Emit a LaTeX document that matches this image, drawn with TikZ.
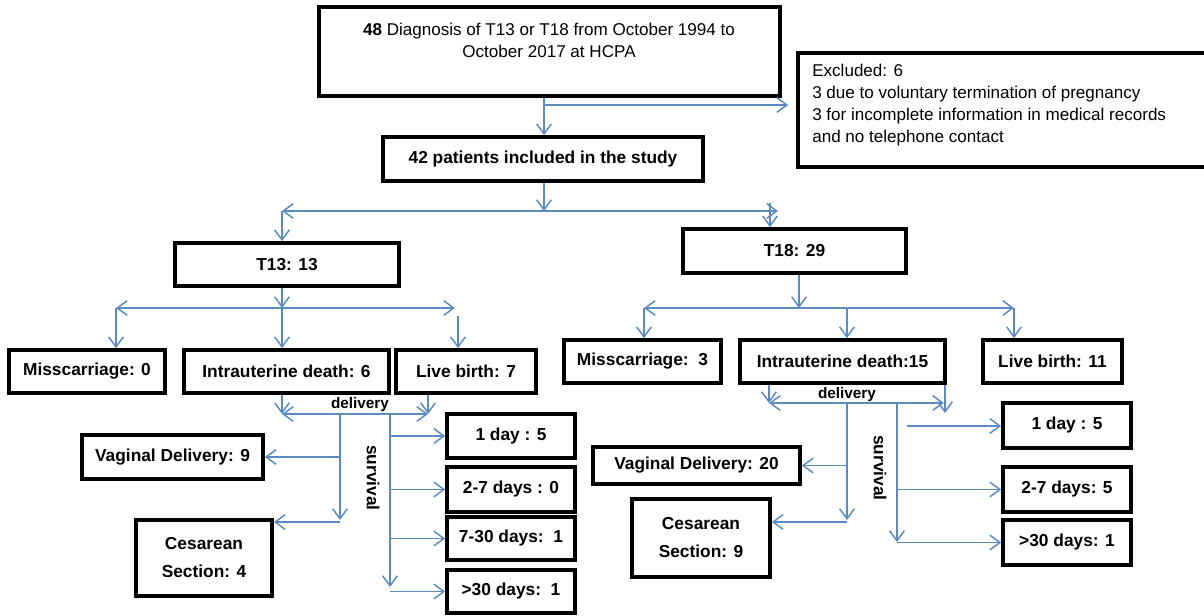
\documentclass[tikz,border=0pt]{standalone}
\usepackage{fontspec}
\setmainfont{Liberation Sans}
\usetikzlibrary{arrows.meta}
\definecolor{ln}{HTML}{5B8BC1}
\newcommand\bx[6]{\node[box, minimum width={(#4-#2)*0.75pt}, minimum height={(#5-#3)*0.75pt}] (#1) at ({(#2+#4)/2},{(#3+#5)/2}) {#6};}
\begin{document}
\begin{tikzpicture}[x=0.75pt,y=-0.75pt,
  box/.style={draw, line width=2.8pt, inner sep=0pt, align=center, font=\bfseries\fontsize{13}{15}\selectfont},
  conn/.style={draw=ln, line width=1.1pt},
  arr/.style={conn, -{Straight Barb[length=7.5pt,width=11pt]}},
  darr/.style={conn, {Straight Barb[length=7.5pt,width=11pt]}-{Straight Barb[length=7.5pt,width=11pt]}},
  reg/.style={inner sep=0pt, font=\fontsize{12.8}{17}\selectfont},
  lbl/.style={inner sep=0pt, font=\bfseries\fontsize{11.5}{13}\selectfont},
  slbl/.style={inner sep=0pt, font=\bfseries\fontsize{13}{15}\selectfont, rotate=-90}]
\useasboundingbox (0,0) rectangle (1204,615);

% ---- boxes ----
\bx{top}{319}{7}{780}{96}{}
\node[reg, align=center] (toptext) at (549,40.5) {{\bfseries 48} Diagnosis of T13 or T18 from October 1994 to\\October 2017 at HCPA};
\bx{excl}{798}{53}{1215}{167}{}
\node[reg, align=left, anchor=west, font=\fontsize{12.8}{16.5}\selectfont] (excltext) at (812,105.5) {Excluded: 6\\3 due to voluntary termination of pregnancy\\3 for incomplete information in medical records\\and no telephone contact};
\bx{pat}{383}{137}{703}{181}{42 patients included in the study}
\bx{tA}{175}{243}{399}{286}{T13: 13}
\bx{tB}{683}{229}{906}{273}{T18: 29}
\bx{mA}{9}{350}{165}{393}{Misscarriage: 0}
\bx{iA}{184}{350}{389}{393}{Intrauterine death: 6}
\bx{lA}{396}{350}{536}{393}{Live birth: 7}
\bx{mB}{564}{340}{721}{383}{Misscarriage:\ \ 3}
\bx{iB}{740}{340}{945}{383}{Intrauterine death:15}
\bx{lB}{983}{340}{1122}{383}{Live birth: 11}
\bx{vA}{82}{435}{263}{479}{Vaginal Delivery: 9}
\bx{cA}{136}{520}{272}{596}{Cesarean\\[6pt]Section: 4}
\bx{sA1}{447}{414}{575}{458}{1 day : 5}
\bx{sA2}{447}{467}{575}{512}{2-7 days : 0}
\bx{sA3}{447}{517}{575}{560}{7-30 days:\ \ 1}
\bx{sA4}{447}{570}{575}{613}{>30 days:\ \ 1}
\bx{vB}{593}{447}{800}{484}{Vaginal Delivery: 20}
\bx{cB}{632}{499}{770}{577}{Cesarean\\[6pt]Section: 9}
\bx{sB1}{1003}{403}{1131}{448}{1 day : 5}
\bx{sB2}{1003}{467}{1131}{512}{2-7 days: 5}
\bx{sB3}{1003}{520}{1131}{565}{>30 days: 1}

% ---- top connectors ----
\coordinate (j1) at (544,105);
\draw[arr] (top.south -| j1) -- (j1 |- pat.north);
\draw[arr, shorten >=6pt] (j1) -- (j1 -| excl.west);
\coordinate (j2) at (544,211);
\coordinate (j2L) at (282,211);
\coordinate (j2R) at (778,211);
\coordinate (j2T) at (770,203);
\draw[arr] (pat.south -| j2) -- (j2);
\draw[darr] (j2L) -- (j2R);
\draw[arr] (j2L) -- (j2L |- tA.north);
\draw[arr] (j2T) -- (j2T |- tB.north);

% ---- T13 branches ----
\coordinate (j3) at (282,308);
\coordinate (j3L) at (116,308);
\coordinate (j3R) at (455,308);
\coordinate (j3r) at (458,316);
\draw[arr] (tA.south -| j3) -- (j3);
\draw[darr] (j3L) -- (j3R);
\draw[arr] (j3) -- (j3 |- iA.north);
\draw[arr] (j3L) -- (j3L |- mA.north);
\draw[arr] (j3r) -- (j3r |- lA.north);

% ---- T18 branches ----
\coordinate (j4) at (799,308);
\coordinate (j4L) at (644,308);
\coordinate (j4M) at (847,308);
\coordinate (j4R) at (1014,308);
\draw[arr] (tB.south -| j4) -- (j4);
\draw[darr] (j4L) -- (j4R);
\draw[arr] (j4L) -- (j4L |- mB.north);
\draw[arr] (j4M) -- (j4M |- iB.north);
\draw[arr] (j4R) -- (j4R |- lB.north);

% ---- left delivery / survival ----
\coordinate (dAL) at (282,414);
\coordinate (dAR) at (428,414);
\draw[arr] (iA.south -| dAL) -- (dAL);
\draw[arr] (lA.south -| dAR) -- (dAR);
\draw[darr] (dAL) -- (dAR);
\node[lbl] (delA) at (360,405) {delivery};
\coordinate (dA) at (340,414);
\coordinate (dAb) at (340,520);
\coordinate (dAc) at (340,522);
\draw[arr] (dA) -- (dAb);
\draw[arr] (dA |- vA.east) -- (vA.east);
\draw[arr] (dAc) -- (dAc -| cA.east);
\coordinate (sA) at (390,414);
\coordinate (sAb) at (390,587);
\draw[arr] (sA) -- (sAb);
\draw[arr] (sA |- sA1.west) -- (sA1.west);
\draw[arr] (sA |- sA2.west) -- (sA2.west);
\draw[arr] (sA |- sA3.west) -- (sA3.west);
\draw[arr] (sA |- sA4.west) -- (sA4.west);
\node[slbl] (survA) at (373,478) {survival};

% ---- right delivery / survival ----
\coordinate (dBL) at (769,403);
\coordinate (dBR) at (944,403);
\coordinate (dBv) at (945,413);
\draw[arr] (iB.south -| dBL) -- (dBL);
\draw[arr] (iB.south -| dBv) -- (dBv);
\draw[darr] (dBL) -- (dBR);
\node[lbl] (delB) at (847,395) {delivery};
\coordinate (dB) at (847,403);
\coordinate (dBb) at (847,520);
\coordinate (dBc) at (847,522);
\draw[arr] (dB) -- (dBb);
\draw[arr] (dB |- vB.east) -- (vB.east);
\draw[arr] (dBc) -- (dBc -| cB.east);
\coordinate (sB) at (897,403);
\coordinate (sBb) at (897,542);
\coordinate (sBs) at (907,426);
\draw[arr] (sB) -- (sBb);
\draw[arr] (sBs) -- (sBs -| sB1.west);
\draw[arr] (sB |- sB2.west) -- (sB2.west);
\draw[arr] (sB |- sB3.west) -- (sB3.west);
\node[slbl] (survB) at (880,468) {survival};
\end{tikzpicture}
\end{document}
